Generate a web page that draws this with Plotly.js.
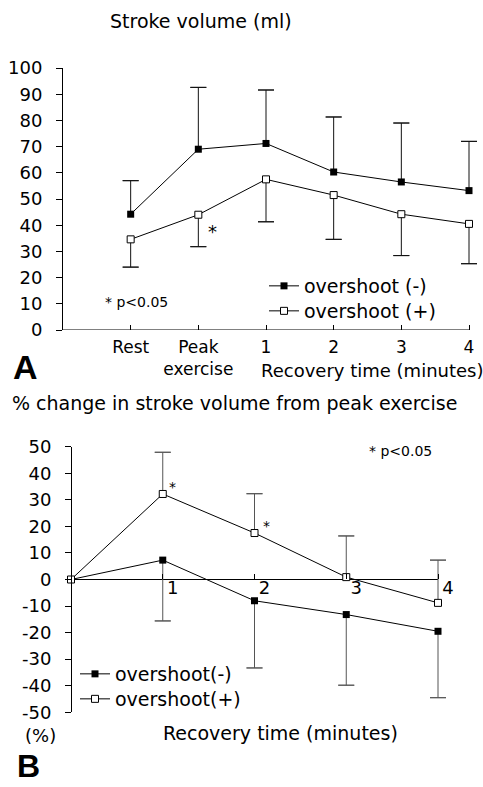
<!DOCTYPE html>
<html>
<head>
<meta charset="utf-8">
<script src="https://cdn.plot.ly/plotly-3.0.1.min.js"></script>
<style>html,body{margin:0;padding:0;background:#fff}#chart{width:483px;height:787px}</style>
</head>
<body>
<div id="chart"></div>
<script>
// ---- Panel A data: stroke volume (ml) ----
var categoriesA = ['Rest', 'Peak<br>exercise', '1', '2', '3', '4'];
var svOvershootNeg = [44.2, 69.0, 71.2, 60.3, 56.5, 53.2];
var svOvershootNegUpper = [57.0, 92.6, 91.6, 81.3, 79.0, 72.0];
var svOvershootPos = [34.6, 44.0, 57.5, 51.5, 44.2, 40.5];
var svOvershootPosLower = [24.0, 31.8, 41.3, 34.6, 28.4, 25.3];

// ---- Panel B data: % change from peak exercise ----
var minutesB = [0, 1, 2, 3, 4];
var pctOvershootNeg = [0, 7.3, -8.0, -13.2, -19.5];
var pctOvershootNegLower = [null, -15.6, -33.3, -39.8, -44.5];
var pctOvershootPos = [0, 32.2, 17.5, 0.9, -8.8];
var pctOvershootPosUpper = [null, 47.9, 32.3, 16.4, 7.3];

// ---- tick labels ----
var yTickValsA = [0, 10, 20, 30, 40, 50, 60, 70, 80, 90, 100];
var yTickValsB = [50, 40, 30, 20, 10, 0, -10, -20, -30, -40, -50];
var yTickTextB = ['50', '40', '30', '20', '10', '0', '-10', '-20', '-30', '-40', '-50'];
var xTickValsB = [1, 2, 3, 4];
var xTickTextB = ['1', '2', '3', '4'];

var W = 483, H = 787;
function px(x) { return x / W; }
function py(y) { return 1 - y / H; }
var FONT = 'DejaVu Sans, sans-serif';

function diff(a, b) { return a.map(function (v, i) { return (v == null || b[i] == null) ? null : v - b[i]; }); }
function zeros(a) { return a.map(function (v) { return v == null ? null : 0; }); }

var barColA = '#111', barColB = '#555';

function stem(x, y, up, down, xa, ya, col) {
  return {x: x, y: y, xaxis: xa, yaxis: ya, mode: 'lines', line: {width: 0, color: 'rgba(0,0,0,0)'},
    showlegend: false, hoverinfo: 'skip', cliponaxis: false,
    error_y: {type: 'data', symmetric: false, array: up, arrayminus: down, width: 0, thickness: 1, color: col}};
}
function cap(x, y, xa, ya, col) {
  return {x: x, y: y, xaxis: xa, yaxis: ya, mode: 'markers', marker: {size: 1, opacity: 0},
    showlegend: false, hoverinfo: 'skip', cliponaxis: false,
    error_y: {type: 'data', symmetric: false, array: zeros(y), arrayminus: zeros(y), width: 8, thickness: 1, color: col}};
}
function series(x, y, xa, ya, name, leg, filled) {
  return {x: x, y: y, xaxis: xa, yaxis: ya, name: name, legend: leg, mode: 'lines+markers', cliponaxis: false,
    line: {color: '#000', width: 1},
    marker: filled ? {symbol: 'square', size: 7, color: '#000', line: {width: 0}}
                   : {symbol: 'square', size: 7, color: '#fff', line: {width: 1, color: '#000'}}};
}

var traces = [
  stem(categoriesA, svOvershootNeg, diff(svOvershootNegUpper, svOvershootNeg), zeros(svOvershootNeg), 'x', 'y', barColA),
  cap(categoriesA, svOvershootNegUpper, 'x', 'y', barColA),
  stem(categoriesA, svOvershootPos, zeros(svOvershootPos), diff(svOvershootPos, svOvershootPosLower), 'x', 'y', barColA),
  cap(categoriesA, svOvershootPosLower, 'x', 'y', barColA),
  series(categoriesA, svOvershootNeg, 'x', 'y', 'overshoot (-)', 'legend', true),
  series(categoriesA, svOvershootPos, 'x', 'y', 'overshoot (+)', 'legend3', false),

  stem(minutesB, pctOvershootNeg, zeros(pctOvershootNegLower), diff(pctOvershootNeg, pctOvershootNegLower), 'x2', 'y2', barColB),
  cap(minutesB, pctOvershootNegLower, 'x2', 'y2', barColB),
  stem(minutesB, pctOvershootPos, diff(pctOvershootPosUpper, pctOvershootPos), zeros(pctOvershootPosUpper), 'x2', 'y2', barColB),
  cap(minutesB, pctOvershootPosUpper, 'x2', 'y2', barColB),
  series(minutesB, pctOvershootNeg, 'x2', 'y2', 'overshoot(-)', 'legend2', true),
  series(minutesB, pctOvershootPos, 'x2', 'y2', 'overshoot(+)', 'legend4', false)
];

function ann(text, x, y, size, extra) {
  var a = {text: text, x: px(x), y: py(y), xref: 'paper', yref: 'paper', showarrow: false,
    xanchor: 'center', yanchor: 'middle', font: {family: FONT, size: size, color: '#000'}};
  if (extra) for (var k in extra) a[k] = extra[k];
  return a;
}
function leg(x, y) {
  return {x: px(x), y: py(y), xanchor: 'left', yanchor: 'middle', bgcolor: 'rgba(0,0,0,0)',
    font: {family: FONT, size: 19}, itemwidth: 30, tracegroupgap: 0};
}

// Plot areas extend to the right page edge so the last error-bar caps are not clipped;
// the x ranges are extended by the same pixel scale, and the visible x-axis lines stop at the last point.
var ppuA = (469 - 63) / 6;          // px per category step, panel A
var ppuB = (438 - 71) / 4;          // px per minute, panel B
var xMaxA = 5 + (W - 469) / ppuA;
var xMaxB = 4 + (W - 438) / ppuB;

var layout = {
  width: W, height: H, autosize: false,
  margin: {l: 0, r: 0, t: 0, b: 0},
  paper_bgcolor: '#fff', plot_bgcolor: 'rgba(0,0,0,0)',
  font: {family: FONT, color: '#000'},
  showlegend: true,
  xaxis: {domain: [px(63), 1], anchor: 'y', type: 'category', range: [-1, xMaxA],
    showline: false, ticks: 'inside', ticklen: 5, tickcolor: '#000',
    showgrid: false, zeroline: false, tickfont: {family: FONT, size: 17}, ticklabelstandoff: 5, fixedrange: true},
  yaxis: {domain: [py(330), py(68)], anchor: 'x', range: [0, 100], tickvals: yTickValsA,
    showline: true, linecolor: '#000', linewidth: 1, ticks: 'outside', ticklen: 6, tickcolor: '#000',
    showgrid: false, zeroline: false, tickfont: {family: FONT, size: 18}, ticklabelstandoff: 10, fixedrange: true},
  xaxis2: {domain: [px(71), 1], anchor: 'free', position: py(579.3), range: [0, xMaxB],
    tickvals: xTickValsB, ticktext: xTickTextB,
    showline: false, ticks: 'inside', ticklen: 5, tickcolor: '#000',
    showgrid: false, zeroline: false, tickfont: {family: FONT, size: 18}, ticklabelshift: 10, ticklabelstandoff: -4, fixedrange: true},
  yaxis2: {domain: [py(712.3), py(446.7)], anchor: 'free', position: px(71), range: [-50, 50],
    tickvals: yTickValsB, ticktext: yTickTextB,
    showline: true, linecolor: '#000', linewidth: 1, ticks: 'outside', ticklen: 6, tickcolor: '#000',
    showgrid: false, zeroline: false, tickfont: {family: FONT, size: 18}, ticklabelstandoff: 10, fixedrange: true},
  legend: leg(264, 286),
  legend3: leg(264, 311),
  legend2: leg(75, 674),
  legend4: leg(75, 699),
  shapes: [
    {type: 'line', xref: 'x', yref: 'y', x0: -1, x1: 5, y0: 0, y1: 0, layer: 'below', line: {color: '#000', width: 1}},
    {type: 'line', xref: 'x2', yref: 'y2', x0: 0, x1: 4, y0: 0, y1: 0, layer: 'below', line: {color: '#000', width: 1}}
  ],
  annotations: [
    ann('Stroke volume (ml)', 201, 21, 19),
    ann('Recovery time (minutes)', 372, 370, 18),
    ann('<b>A</b>', 25, 367, 34, {font: {family: 'Liberation Sans, Arial, sans-serif', size: 34, color: '#000'}}),
    {text: '*', x: 1.21, y: 37.5, xref: 'x', yref: 'y', showarrow: false, font: {family: FONT, size: 18, color: '#000'}},
    ann('* p<0.05', 136, 302, 14),
    ann('% change in stroke volume from peak exercise', 234.5, 403, 19),
    ann('* p<0.05', 400, 451, 14),
    {text: '*', x: 1.11, y: 35, xref: 'x2', yref: 'y2', showarrow: false, font: {family: FONT, size: 14, color: '#000'}},
    {text: '*', x: 2.13, y: 20, xref: 'x2', yref: 'y2', showarrow: false, font: {family: FONT, size: 14, color: '#000'}},
    ann('(%)', 40, 735, 18),
    ann('Recovery time (minutes)', 280, 733, 19),
    ann('<b>B</b>', 28, 766, 32, {font: {family: 'Liberation Sans, Arial, sans-serif', size: 32, color: '#000'}})
  ]
};

Plotly.newPlot('chart', traces, layout, {staticPlot: true, displayModeBar: false});
</script>
</body>
</html>
